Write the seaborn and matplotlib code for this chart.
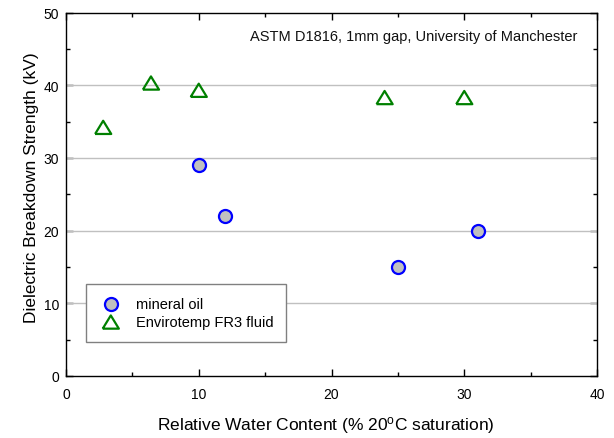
import matplotlib
matplotlib.use("Agg")
import matplotlib.pyplot as plt
import seaborn as sns
import pandas as pd
from matplotlib.ticker import MultipleLocator

# Data
mineral_x = [10, 12, 25, 31]
mineral_y = [29, 22, 15, 20]
fr3_x = [2.8, 6.4, 10, 24, 30]
fr3_y = [34.2, 40.3, 39.3, 38.3, 38.3]
series_names = ["mineral oil", "Envirotemp FR3 fluid"]
x_label = "Relative Water Content (% 20$^{o}$C saturation)"
y_label = "Dielectric Breakdown Strength (kV)"
note = "ASTM D1816, 1mm gap, University of Manchester"

sns.set_theme(style="white")
plt.rcParams["font.family"] = ["Liberation Sans", "DejaVu Sans"]
plt.rcParams["mathtext.fontset"] = "custom"
plt.rcParams["mathtext.rm"] = "Liberation Sans"
plt.rcParams["mathtext.default"] = "regular"
plt.rcParams["text.color"] = "black"
plt.rcParams["axes.labelcolor"] = "black"
plt.rcParams["xtick.color"] = "black"
plt.rcParams["ytick.color"] = "black"

df_min = pd.DataFrame({"x": mineral_x, "y": mineral_y})
df_fr3 = pd.DataFrame({"x": fr3_x, "y": fr3_y})

fig = plt.figure(figsize=(6.14, 4.39), dpi=100)
ax = fig.add_axes([66/614, 1-377/439, (597-66)/614, (377-13.5)/439])

tri = [(-1, -0.82), (1, -0.82), (0, 0.82), (-1, -0.82)]

sns.scatterplot(data=df_min, x="x", y="y", ax=ax, marker="o", s=88,
                color="#C0C0C0", edgecolor="#0000FF", linewidth=1.6,
                label=series_names[0], zorder=3)
sns.scatterplot(data=df_fr3, x="x", y="y", ax=ax, marker=tri, s=135,
                facecolor="none", edgecolor="#008000", linewidth=1.6,
                label=series_names[1], zorder=3)

ax.set_xlim(0, 40)
ax.set_ylim(0, 50)
ax.xaxis.set_major_locator(MultipleLocator(10))
ax.xaxis.set_minor_locator(MultipleLocator(5))
ax.yaxis.set_major_locator(MultipleLocator(10))
ax.yaxis.set_minor_locator(MultipleLocator(5))

for yv in [10, 20, 30, 40]:
    ax.axhline(yv, color="#C0C0C0", linewidth=1.0, zorder=1)

ax.tick_params(which="both", direction="in", top=True, right=True,
               bottom=True, left=True, color="black")
ax.tick_params(which="major", length=5, width=1, labelsize=10, pad=5)
ax.tick_params(axis="x", which="major", pad=8)
ax.tick_params(which="minor", length=3, width=1)
for sp in ax.spines.values():
    sp.set_color("black")
    sp.set_linewidth(1.0)

ax.set_xlabel(x_label, fontsize=12.5)
ax.set_ylabel(y_label, fontsize=12.5)
ax.xaxis.set_label_coords((326 - 66) / 531, (377 - 415) / 363.5)
ax.yaxis.set_label_coords((39 - 66) / 531, 0.52)

ax.text((577.6 - 66) / 531, (377 - 37.5) / 363.5, note, transform=ax.transAxes,
        ha="right", va="center", fontsize=10.5, color="#111111")

leg = ax.legend(loc="lower left",
                bbox_to_anchor=((86 - 66) / 531, (377 - 343) / 363.5),
                borderaxespad=0, fontsize=10.5, frameon=True, fancybox=False,
                shadow=False, handletextpad=0.9, borderpad=0.9,
                labelspacing=0.25, handlelength=1.6)
leg.get_frame().set_edgecolor("#808080")
leg.get_frame().set_linewidth(1.0)
leg.get_frame().set_alpha(1)

fig.savefig("out.png", dpi=100)
